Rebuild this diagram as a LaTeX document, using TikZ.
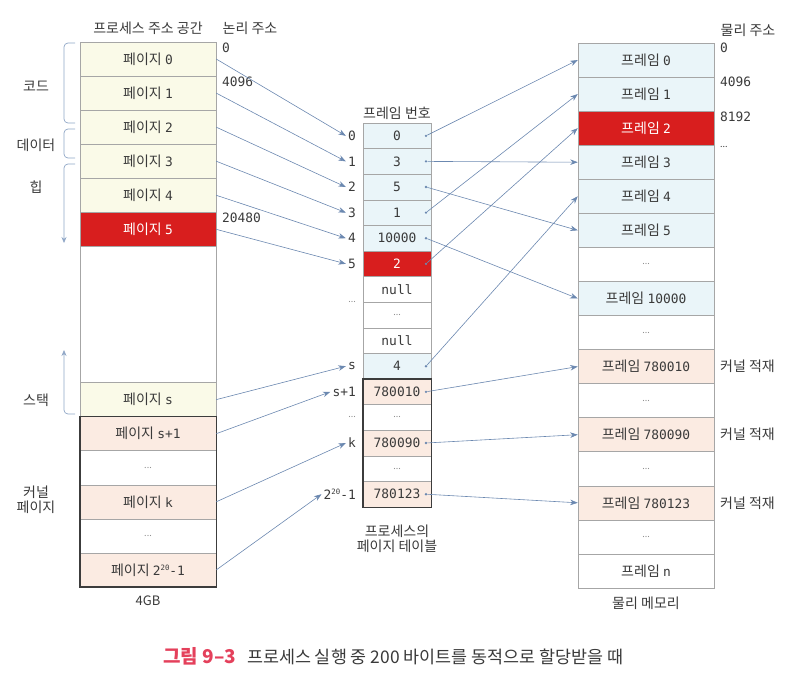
\documentclass[tikz,border=0pt]{standalone}
\usepackage{fontspec}
\setmainfont{Noto Sans CJK KR}
\setmonofont[Scale=0.92]{DejaVu Sans Mono}
\usetikzlibrary{arrows.meta}
\definecolor{ylw}{HTML}{FAFAE8}
\definecolor{blu}{HTML}{EAF5F9}
\definecolor{pnk}{HTML}{FBEBE2}
\definecolor{rd}{HTML}{D81E1E}
\definecolor{arr}{HTML}{6B88B0}
\definecolor{brc}{HTML}{8FA6C6}
\definecolor{txt}{HTML}{3A3A3A}
\definecolor{capc}{HTML}{E4405B}
\definecolor{kern}{HTML}{3C3C3C}
\newcommand{\dd}{\textcolor{black!45}{\fontsize{9}{9}\selectfont ...}}
\newcommand{\sexp}{\texttt{2}\raisebox{4.5pt}{\fontsize{8}{8}\selectfont\ttfamily 20}\texttt{-1}}
\begin{document}
\begin{tikzpicture}[x=1pt,y=-1pt, font=\fontsize{14}{15}\selectfont, text=txt,
 cellL/.style={draw=black!35, line width=0.5pt, minimum width=136pt, minimum height=34.06pt, inner sep=0pt},
 cellM/.style={draw=black!35, line width=0.5pt, minimum width=68pt, minimum height=25.6pt, inner sep=0pt},
 redc/.style={fill=rd, text=white},
 idx/.style={anchor=east, inner sep=2pt},
 lab/.style={inner sep=0pt},
 conn/.style={draw=arr, line width=0.6pt, -{Stealth[length=7.5pt,width=5.5pt]}},
 dot/.style={circle, fill=arr, inner sep=0pt, minimum size=2.6pt},
 brace/.style={draw=brc, line width=0.7pt, rounded corners=4pt},
 kframe/.style={draw=kern, line width=1.5pt}
]
\useasboundingbox (0,0) rectangle (795,681);

% ---------- left column ----------
\node[lab] (hL) at (148,28) {프로세스 주소 공간};
\node[lab] (hLa) at (250,28) {논리 주소};
\node[cellL, fill=ylw] (L0) at (148,59.03) {페이지 \texttt{0}};
\node[cellL, fill=ylw] (L1) at (148,93.09) {페이지 \texttt{1}};
\node[cellL, fill=ylw] (L2) at (148,127.15) {페이지 \texttt{2}};
\node[cellL, fill=ylw] (L3) at (148,161.21) {페이지 \texttt{3}};
\node[cellL, fill=ylw] (L4) at (148,195.27) {페이지 \texttt{4}};
\node[cellL, redc] (L5) at (148,229.33) {페이지 \texttt{5}};
\node[cellL, fill=white, minimum height=136.24pt] (Le) at (148,314.48) {};
\node[cellL, fill=ylw] (Ls) at (148,399.63) {페이지 \texttt{s}};
\node[cellL, fill=pnk] (Ls1) at (148,433.69) {페이지 \texttt{s+1}};
\node[cellL, fill=white] (Ld1) at (148,467.75) {\dd};
\node[cellL, fill=pnk] (Lk) at (148,501.81) {페이지 \texttt{k}};
\node[cellL, fill=white] (Ld2) at (148,535.87) {\dd};
\node[cellL, fill=pnk] (Ln) at (148,569.93) {페이지 \sexp};
\draw[kframe] (Ls1.north west) rectangle (Ln.south east);
\node[lab] (g4) at (148,601) {\fontsize{13}{14}\selectfont 4GB};

\node[lab, anchor=west] (a0) at (222,48) {\texttt{0}};
\node[lab, anchor=west] (a1) at (222,82) {\texttt{4096}};
\node[lab, anchor=west] (a2) at (222,218) {\texttt{20480}};

% braces
\draw[brace] (75,43) -- (64,43) -- (64,123) -- (75,123);
\draw[brace] (75,129) -- (64,129) -- (64,158) -- (75,158);
\draw[brace, -{Stealth[length=6pt,width=5pt]}] (75,164) -- (64,164) -- (64,243);
\draw[brace, -{Stealth[length=6pt,width=5pt]}] (75,414) -- (64,414) -- (64,350);
\node[lab] (tc) at (36,86) {코드};
\node[lab] (td) at (36,145) {데이터};
\node[lab] (th) at (36,187) {힙};
\node[lab] (ts) at (36,400) {스택};
\node[lab, align=center] (tk) at (36,500) {커널\\페이지};

% ---------- middle column ----------
\node[lab] (hM) at (397,113) {프레임 번호};
\node[cellM, fill=blu] (M0) at (397,135.8) {\texttt{0}};
\node[cellM, fill=blu] (M1) at (397,161.4) {\texttt{3}};
\node[cellM, fill=blu] (M2) at (397,187) {\texttt{5}};
\node[cellM, fill=blu] (M3) at (397,212.6) {\texttt{1}};
\node[cellM, fill=blu] (M4) at (397,238.2) {\texttt{10000}};
\node[cellM, redc] (M5) at (397,263.8) {\texttt{2}};
\node[cellM, fill=white] (M6) at (397,289.4) {\texttt{null}};
\node[cellM, fill=white] (M7) at (397,315) {\dd};
\node[cellM, fill=white] (M8) at (397,340.6) {\texttt{null}};
\node[cellM, fill=blu] (M9) at (397,366.2) {\texttt{4}};
\node[cellM, fill=pnk] (M10) at (397,391.8) {\texttt{780010}\hspace{6pt}};
\node[cellM, fill=white] (M11) at (397,417.4) {\dd};
\node[cellM, fill=pnk] (M12) at (397,443) {\texttt{780090}\hspace{6pt}};
\node[cellM, fill=white] (M13) at (397,468.6) {\dd};
\node[cellM, fill=pnk] (M14) at (397,494.2) {\texttt{780123}\hspace{6pt}};
\draw[kframe] (M10.north west) rectangle (M14.south east);
\node[lab, align=center] (tM) at (397,539) {프로세스의\\페이지 테이블};

\node[idx] (i0) at (358,135.8) {\texttt{0}};
\node[idx] (i1) at (358,161.4) {\texttt{1}};
\node[idx] (i2) at (358,187) {\texttt{2}};
\node[idx] (i3) at (358,212.6) {\texttt{3}};
\node[idx] (i4) at (358,238.2) {\texttt{4}};
\node[idx] (i5) at (358,263.8) {\texttt{5}};
\node[idx] (ie1) at (358,302) {\dd};
\node[idx] (is) at (358,366.2) {\texttt{s}};
\node[idx] (is1) at (358,391.8) {\texttt{s+1}};
\node[idx] (ie2) at (358,417.4) {\dd};
\node[idx] (ik) at (358,443) {\texttt{k}};
\node[idx] (in) at (358,494.2) {\sexp};

\node[dot] (d0) at (426,135.8) {};
\node[dot] (d1) at (426,161.4) {};
\node[dot] (d2) at (426,187) {};
\node[dot] (d3) at (426,212.6) {};
\node[dot] (d4) at (426,238.2) {};
\node[dot] (d5) at (426,263.8) {};
\node[dot] (d9) at (426,366.2) {};
\node[dot] (d10) at (426,391.8) {};
\node[dot] (d12) at (426,443) {};
\node[dot] (d14) at (426,494.2) {};

% ---------- right column ----------
\node[lab] (hR) at (748,30) {물리 주소};
\node[cellL, fill=blu] (R0) at (646,60.03) {프레임 \texttt{0}};
\node[cellL, fill=blu] (R1) at (646,94.09) {프레임 \texttt{1}};
\node[cellL, redc] (R2) at (646,128.15) {프레임 \texttt{2}};
\node[cellL, fill=blu] (R3) at (646,162.21) {프레임 \texttt{3}};
\node[cellL, fill=blu] (R4) at (646,196.27) {프레임 \texttt{4}};
\node[cellL, fill=blu] (R5) at (646,230.33) {프레임 \texttt{5}};
\node[cellL, fill=white] (R6) at (646,264.39) {\dd};
\node[cellL, fill=blu] (R7) at (646,298.45) {프레임 \texttt{10000}};
\node[cellL, fill=white] (R8) at (646,332.51) {\dd};
\node[cellL, fill=pnk] (R9) at (646,366.57) {프레임 \texttt{780010}};
\node[cellL, fill=white] (R10) at (646,400.63) {\dd};
\node[cellL, fill=pnk] (R11) at (646,434.69) {프레임 \texttt{780090}};
\node[cellL, fill=white] (R12) at (646,468.75) {\dd};
\node[cellL, fill=pnk] (R13) at (646,502.81) {프레임 \texttt{780123}};
\node[cellL, fill=white] (R14) at (646,536.87) {\dd};
\node[cellL, fill=white] (R15) at (646,570.93) {프레임 \texttt{n}};
\node[lab] (tR) at (646,603) {물리 메모리};

\node[lab, anchor=west] (p0) at (720,48) {\texttt{0}};
\node[lab, anchor=west] (p1) at (720,82) {\texttt{4096}};
\node[lab, anchor=west] (p2) at (720,117) {\texttt{8192}};
\node[lab, anchor=west] (p3) at (720,147) {\textcolor{txt}{\fontsize{9}{9}\selectfont ...}};
\node[lab, anchor=west] (k1) at (720,366.57) {커널 적재};
\node[lab, anchor=west] (k2) at (720,434.69) {커널 적재};
\node[lab, anchor=west] (k3) at (720,502.81) {커널 적재};

% ---------- connectors left -> middle ----------
\draw[conn] (L0.east) -- (i0.west);
\draw[conn] (L1.east) -- (i1.west);
\draw[conn] (L2.east) -- (i2.west);
\draw[conn] (L3.east) -- (i3.west);
\draw[conn] (L4.east) -- (i4.west);
\draw[conn] (L5.east) -- (i5.west);
\draw[conn] (Ls.east) -- (is.west);
\draw[conn] (Ls1.east) -- (is1.west);
\draw[conn] (Lk.east) -- (ik.west);
\draw[conn] (Ln.east) -- (in.west);

% ---------- connectors middle -> right ----------
\draw[conn] (d0) -- (R0.west);
\draw[conn] (d1) -- (R3.west);
\draw[conn] (d2) -- (R5.west);
\draw[conn] (d3) -- (R1.west);
\draw[conn] (d4) -- (R7.west);
\draw[conn] (d5) -- (R2.west);
\draw[conn] (d9) -- (R4.west);
\draw[conn] (d10) -- (R9.west);
\draw[conn] (d12) -- (R11.west);
\draw[conn] (d14) -- (R13.west);

% ---------- caption ----------
\node[lab, anchor=west] (cap) at (163,656) {{\fontsize{19}{21}\selectfont\bfseries\color{capc}그림 9–3}\hspace{11pt}{\fontsize{17.4}{19}\selectfont 프로세스 실행 중 200 바이트를 동적으로 할당받을 때}};
\end{tikzpicture}
\end{document}
